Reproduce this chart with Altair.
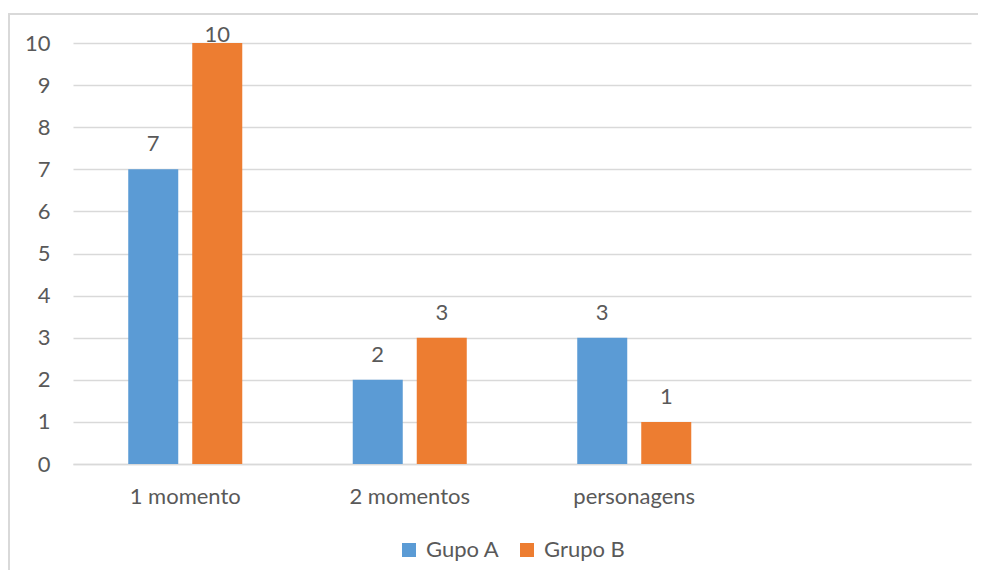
import altair as alt
import pandas as pd

categories = ["1 momento", "2 momentos", "personagens"]
empty_slot = [" "]
series = ["Gupo A", "Grupo B"]
grupo_a = [7, 2, 3]
grupo_b = [10, 3, 1]
colors = ["#5B9BD5", "#ED7D31"]

rows = []
for c, a, b in zip(categories, grupo_a, grupo_b):
    rows.append({"cat": c, "serie": series[0], "valor": a})
    rows.append({"cat": c, "serie": series[1], "valor": b})
df = pd.DataFrame(rows)

FONT = "Lato"
FS = 22
TXT = "#595959"
GRID = "#d9d9d9"

x_enc = alt.X("cat:N", sort=categories + empty_slot,
              scale=alt.Scale(domain=categories + empty_slot, paddingInner=0, paddingOuter=0),
              axis=alt.Axis(title=None, labelAngle=0, ticks=False, domain=True, domainColor=GRID,
                            domainWidth=1.5, labelFont=FONT, labelFontSize=FS, labelColor=TXT,
                            labelBaseline="alphabetic", labelPadding=39))
xoff_enc = alt.XOffset("serie:N", sort=series,
                       scale=alt.Scale(domain=series, paddingInner=0.21875, paddingOuter=0.863))
y_enc = alt.Y("valor:Q", scale=alt.Scale(domain=[0, 10], nice=False),
              axis=alt.Axis(title=None, values=list(range(0, 11)), ticks=False, domain=False,
                            grid=True, gridColor=GRID, gridWidth=1.5, labelFont=FONT,
                            labelFontSize=FS, labelColor=TXT, labelPadding=23))
color_enc = alt.Color("serie:N", sort=series,
                      scale=alt.Scale(domain=series, range=colors),
                      legend=alt.Legend(title=None, orient="none", legendX=325, legendY=496,
                                        direction="horizontal", symbolType="square",
                                        symbolSize=196, symbolStrokeWidth=0, labelFont=FONT,
                                        labelFontSize=FS, labelColor=TXT, labelOffset=6,
                                        columnPadding=16))

base = alt.Chart(df).encode(x=x_enc, xOffset=xoff_enc, y=y_enc)
bars = base.mark_bar().encode(color=color_enc)
labels_low = base.transform_filter(alt.datum.valor < 10).mark_text(
    dy=-18, baseline="alphabetic", font=FONT, fontSize=FS, color=TXT).encode(text="valor:Q")
labels_top = base.transform_filter(alt.datum.valor >= 10).mark_text(
    dy=-1.5, baseline="alphabetic", font=FONT, fontSize=FS, color=TXT).encode(text="valor:Q")

frame_top = alt.Chart(df).mark_rect(color=GRID, strokeWidth=0).encode(
    x=alt.value(-64.75), x2=alt.value(905), y=alt.value(-29.75), y2=alt.value(-28.25))
frame_left = alt.Chart(df).mark_rect(color=GRID, strokeWidth=0).encode(
    x=alt.value(-64.75), x2=alt.value(-63.25), y=alt.value(-29.75), y2=alt.value(540))

chart = alt.layer(frame_top, frame_left, bars, labels_low, labels_top).properties(
    width=898, height=421,
    padding={"left": 65, "top": 35, "right": 7, "bottom": 106},
    autosize=alt.AutoSizeParams(type="none"),
    background="white",
).configure_view(stroke=None)

chart.save("out.html", embed_options={"renderer": "svg", "actions": False})
